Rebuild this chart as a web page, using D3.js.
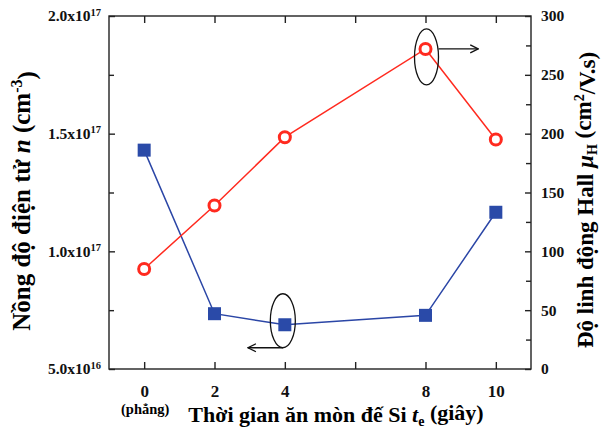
<!DOCTYPE html>
<html>
<head>
<meta charset="utf-8">
<script src="https://cdn.jsdelivr.net/npm/d3@7"></script>
<style>
  body { margin: 0; background: #fff; }
  svg { display: block; font-family: "Liberation Serif", "Times New Roman", serif; font-weight: bold; }
  .axis path, .axis line { stroke: #222; stroke-width: 1.4; }
  .axis text { font-family: "Liberation Serif", serif; font-weight: bold; fill: #111; }
</style>
</head>
<body>
<script>
// etching time (s) and measured values
var etchTime = [0, 2, 4, 8, 10];
var density = [1.43e17, 0.735e17, 0.688e17, 0.728e17, 1.166e17];   // n (cm^-3), left axis
var mobility = [85, 139, 197, 272, 195];                            // mu_H (cm2/V.s), right axis

var xTicks = [0, 2, 4, 6, 8, 10];
var xTickLabels = {0: "0", 2: "2", 4: "4", 6: "", 8: "8", 10: "10"};
var leftTicks = [5e16, 1.0e17, 1.5e17, 2.0e17];
var leftMinor = [7.5e16, 1.25e17, 1.75e17];
var leftTickLabels = {5e16: ["5.0x10", "16"], 1e17: ["1.0x10", "17"], 1.5e17: ["1.5x10", "17"], 2e17: ["2.0x10", "17"]};
var rightTicks = [0, 50, 100, 150, 200, 250, 300];
var rightMinor = [25, 75, 125, 175, 225, 275];

var margin = {top: 16, right: 72, bottom: 61, left: 109},
    width = 603 - margin.left - margin.right,
    height = 430 - margin.top - margin.bottom;

var x = d3.scaleLinear().domain([-1, 11]).range([0, width]);
var yL = d3.scaleLinear().domain([5e16, 2e17]).range([height, 0]);
var yR = d3.scaleLinear().domain([0, 300]).range([height, 0]);

var svg = d3.select("body").append("svg")
    .attr("width", 603).attr("height", 430);

var defs = svg.append("defs");
defs.append("marker")
    .attr("id", "arrow")
    .attr("viewBox", "0 0 10 10")
    .attr("refX", 9).attr("refY", 5)
    .attr("markerWidth", 10).attr("markerHeight", 10)
    .attr("markerUnits", "userSpaceOnUse")
    .attr("orient", "auto")
  .append("path")
    .attr("d", "M1,1 L9,5 L1,9")
    .attr("fill", "none").attr("stroke", "#111").attr("stroke-width", 1.3);

var g = svg.append("g")
    .attr("transform", "translate(" + margin.left + "," + margin.top + ")");

// frame
g.append("rect")
    .attr("width", width).attr("height", height)
    .attr("fill", "none").attr("stroke", "#222").attr("stroke-width", 1.4);

// bottom axis
var xAxis = d3.axisBottom(x).tickValues(xTicks)
    .tickSizeInner(-7).tickSizeOuter(0).tickPadding(16)
    .tickFormat(function(d) { return xTickLabels[d]; });
g.append("g").attr("class", "axis")
    .attr("transform", "translate(0," + height + ")")
    .call(xAxis)
    .call(function(s) { s.selectAll("text").style("font-size", "17px"); s.select(".domain").remove(); });

// top ticks
g.append("g").attr("class", "axis")
    .call(d3.axisTop(x).tickValues(xTicks).tickSizeInner(-7).tickSizeOuter(0).tickFormat(""))
    .call(function(s) { s.select(".domain").remove(); });

// left axis
g.append("g").attr("class", "axis")
    .call(d3.axisLeft(yL).tickValues(leftTicks).tickSizeInner(-6).tickSizeOuter(0).tickPadding(8)
        .tickFormat(""))
    .call(function(s) {
        s.select(".domain").remove();
        s.selectAll(".tick text").each(function(d) {
            var t = d3.select(this).style("font-size", "15.5px");
            var lab = leftTickLabels[d];
            t.append("tspan").text(lab[0]);
            t.append("tspan").attr("dy", "-0.55em").style("font-size", "10.5px").text(lab[1]);
        });
    });
g.append("g").attr("class", "axis")
    .call(d3.axisLeft(yL).tickValues(leftMinor).tickSizeInner(-5).tickSizeOuter(0).tickFormat(""))
    .call(function(s) { s.select(".domain").remove(); });

// right axis
g.append("g").attr("class", "axis")
    .attr("transform", "translate(" + width + ",0)")
    .call(d3.axisRight(yR).tickValues(rightTicks).tickSizeInner(-6).tickSizeOuter(0).tickPadding(10))
    .call(function(s) { s.select(".domain").remove(); s.selectAll("text").style("font-size", "15.5px"); });
g.append("g").attr("class", "axis")
    .attr("transform", "translate(" + width + ",0)")
    .call(d3.axisRight(yR).tickValues(rightMinor).tickSizeInner(-5).tickSizeOuter(0).tickFormat(""))
    .call(function(s) { s.select(".domain").remove(); });

// lines
var lineL = d3.line().x(function(d, i) { return x(etchTime[i]); }).y(function(d) { return yL(d); });
var lineR = d3.line().x(function(d, i) { return x(etchTime[i]); }).y(function(d) { return yR(d); });

g.append("path").attr("d", lineL(density))
    .attr("fill", "none").attr("stroke", "#2b46a6").attr("stroke-width", 1.5);
g.append("path").attr("d", lineR(mobility))
    .attr("fill", "none").attr("stroke", "#ff2a1f").attr("stroke-width", 1.5);

var sq = 13;
g.append("g").selectAll("rect")
    .data(density).enter().append("rect")
    .attr("x", function(d, i) { return x(etchTime[i]) - sq / 2; })
    .attr("y", function(d) { return yL(d) - sq / 2; })
    .attr("width", sq).attr("height", sq)
    .attr("fill", "#2a4aa8");

g.append("g").selectAll("circle")
    .data(mobility).enter().append("circle")
    .attr("cx", function(d, i) { return x(etchTime[i]); })
    .attr("cy", function(d) { return yR(d); })
    .attr("r", 5.5)
    .attr("fill", "#fff").attr("stroke", "#ff2a1f").attr("stroke-width", 3);

// ellipse + arrow annotations
var ex = x(8) + 1, ey = yR(mobility[3]) + 8;
g.append("ellipse").attr("cx", ex).attr("cy", ey).attr("rx", 12).attr("ry", 28)
    .attr("fill", "none").attr("stroke", "#111").attr("stroke-width", 1.3);
g.append("line").attr("x1", ex + 12).attr("y1", ey - 8).attr("x2", x(9.5)).attr("y2", ey - 8)
    .attr("stroke", "#111").attr("stroke-width", 1.3).attr("marker-end", "url(#arrow)");

var bx = x(4) - 2, by = yL(density[2]) - 4;
g.append("ellipse").attr("cx", bx).attr("cy", by).attr("rx", 12.5).attr("ry", 27)
    .attr("fill", "none").attr("stroke", "#111").attr("stroke-width", 1.3);
g.append("line").attr("x1", bx).attr("y1", by + 27).attr("x2", x(2.95)).attr("y2", by + 27)
    .attr("stroke", "#111").attr("stroke-width", 1.3).attr("marker-end", "url(#arrow)");

// "(phẳng)" under 0
g.append("text").attr("x", x(0) + 1).attr("y", height + 45)
    .attr("text-anchor", "middle").style("font-size", "14.5px").text("(phẳng)");

// x-axis title
var xt = g.append("text").attr("x", 227).attr("y", height + 53)
    .attr("text-anchor", "middle").style("font-size", "22px");
xt.append("tspan").text("Thời gian ăn mòn đế Si ");
xt.append("tspan").style("font-style", "italic").text("t");
xt.append("tspan").attr("dy", "0.3em").style("font-size", "14px").text("e");
xt.append("tspan").attr("dy", "-0.3em").text(" (giây)");

// left y-axis title
var lt = svg.append("text")
    .attr("transform", "translate(30," + (margin.top + 185) + ") rotate(-90)")
    .attr("text-anchor", "middle").style("font-size", "25px");
lt.append("tspan").text("Nồng độ điện tử ");
lt.append("tspan").style("font-style", "italic").text("n");
lt.append("tspan").text(" (cm");
lt.append("tspan").attr("dy", "-0.5em").style("font-size", "16px").text("-3");
lt.append("tspan").attr("dy", "0.5em").text(")");

// right y-axis title
var rt = svg.append("text")
    .attr("transform", "translate(593," + (margin.top + 184) + ") rotate(-90)")
    .attr("text-anchor", "middle").style("font-size", "23px");
rt.append("tspan").text("Độ linh động Hall ");
rt.append("tspan").style("font-style", "italic").text("μ");
rt.append("tspan").attr("dy", "0.25em").style("font-size", "14px").text("H");
rt.append("tspan").attr("dy", "-0.25em").text(" (cm");
rt.append("tspan").attr("dy", "-0.5em").style("font-size", "14px").text("2");
rt.append("tspan").attr("dy", "0.5em").text("/V.s)");
</script>
</body>
</html>
